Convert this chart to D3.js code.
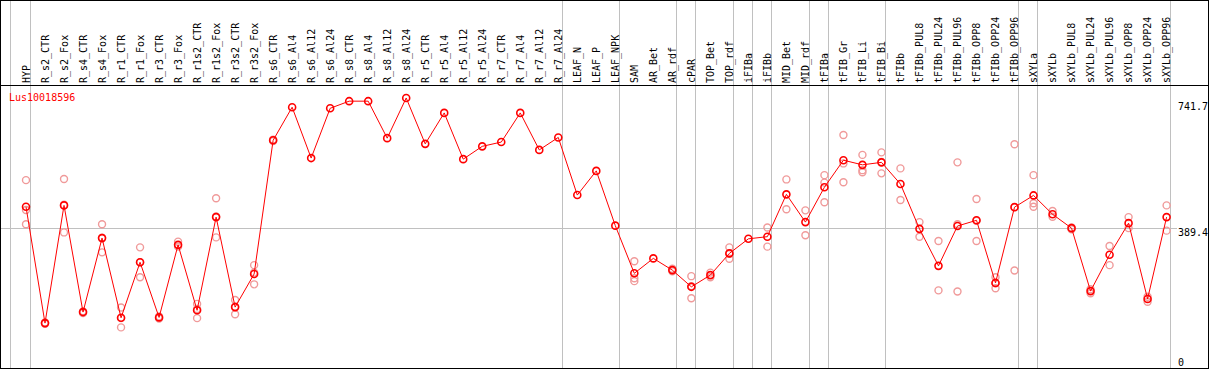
<!DOCTYPE html>
<html>
<head>
<meta charset="utf-8">
<script src="https://cdn.jsdelivr.net/npm/d3@7"></script>
<style>
body { margin: 0; background: #fff; }
text { font-family: "DejaVu Sans Mono", monospace; font-size: 10px; }
</style>
</head>
<body>
<svg id="chart" width="1209" height="370"></svg>
<script>
var width = 1209;
var height = 370;
var geneName = 'Lus10018596';

var samples = ['HYP', 'R_s2_CTR', 'R_s2_Fox', 'R_s4_CTR', 'R_s4_Fox', 'R_r1_CTR', 'R_r1_Fox',
    'R_r3_CTR', 'R_r3_Fox', 'R_r1s2_CTR', 'R_r1s2_Fox', 'R_r3s2_CTR', 'R_r3s2_Fox',
    'R_s6_CTR', 'R_s6_Al4', 'R_s6_Al12', 'R_s6_Al24', 'R_s8_CTR', 'R_s8_Al4', 'R_s8_Al12', 'R_s8_Al24',
    'R_r5_CTR', 'R_r5_Al4', 'R_r5_Al12', 'R_r5_Al24', 'R_r7_CTR', 'R_r7_Al4', 'R_r7_Al12', 'R_r7_Al24',
    'LEAF_N', 'LEAF_P', 'LEAF_NPK', 'SAM', 'AR_Bet', 'AR_rdf', 'cPAR', 'TOP_Bet', 'TOP_rdf',
    'iFIBa', 'iFIBb', 'MID_Bet', 'MID_rdf', 'tFIBa', 'tFIB_Gr', 'tFIB_Li', 'tFIB_Bi', 'tFIBb',
    'tFIBb_PUL8', 'tFIBb_PUL24', 'tFIBb_PUL96', 'tFIBb_OPP8', 'tFIBb_OPP24', 'tFIBb_OPP96',
    'sXYLa', 'sXYLb', 'sXYLb_PUL8', 'sXYLb_PUL24', 'sXYLb_PUL96', 'sXYLb_OPP8', 'sXYLb_OPP24', 'sXYLb_OPP96'];

var means = [449, 122, 453, 153, 361, 137, 293, 138, 342, 158, 420, 167, 260,
    636, 729, 586, 726, 746, 746, 642, 755,
    626, 713, 583, 619, 631, 713, 609, 644,
    482, 550, 396, 262, 304, 271, 224, 257, 318,
    359, 365, 484, 406, 504, 580, 567, 574, 513,
    387, 283, 395, 411, 235, 448,
    481, 428, 389, 212, 314, 403, 190, 420];

var replicates = [
    [524, 440, 400], [120, 124], [527, 455, 377], [150, 155], [400, 362, 321], [166, 136, 110],
    [335, 293, 251], [135, 141], [351, 337], [176, 162, 136], [473, 422, 363], [187, 168, 147],
    [285, 264, 231], [634, 638],
    [], [], [], [], [], [], [], [], [], [], [], [], [], [], [],
    [], [], [],
    [296, 248, 240], [], [268, 275], [254, 226, 192], [264, 251], [335, 317, 303],
    [], [391, 337], [526, 442], [439, 369], [538, 517, 462], [651, 571, 518], [595, 552, 546],
    [602, 575, 543], [557, 468],
    [406, 365], [353, 214], [574, 400, 211], [471, 410, 353], [251, 234, 220], [625, 448, 270],
    [538, 459, 449], [437, 421], [386, 391], [206, 217], [339, 285], [420, 389], [182, 196], [453, 382]];

// last sample of each group; a grey line follows it
var groupEnds = ['HYP', 'R_r7_Al24', 'LEAF_NPK', 'AR_rdf', 'cPAR', 'TOP_rdf', 'iFIBa', 'iFIBb',
    'MID_rdf', 'tFIBa', 'tFIB_Bi', 'tFIBb_OPP96', 'sXYLa', 'sXYLb_OPP96'];

var axisTicks = [741.7, 389.4, 0];

var x = d3.scalePoint().domain(samples).range([26, 1166.6]);
var y = d3.scaleLinear().domain([0, 741.7]).range([366.5, 102.7]);

var svg = d3.select('#chart');

// separators
var sepX = [x(samples[0]) - x.step()].concat(groupEnds.map(function(d) { return x(d); }));
svg.append('g')
    .selectAll('line')
    .data(sepX)
    .join('line')
    .attr('x1', function(d) { return Math.floor(d + 4) + 0.5; })
    .attr('x2', function(d) { return Math.floor(d + 4) + 0.5; })
    .attr('y1', 0)
    .attr('y2', 369)
    .attr('stroke', '#c0c0c0');

// middle reference line
svg.append('line')
    .attr('x1', 1)
    .attr('x2', 1177)
    .attr('y1', Math.round(y(389.4)) + 0.5)
    .attr('y2', Math.round(y(389.4)) + 0.5)
    .attr('stroke', '#c0c0c0');

// frame
svg.append('rect')
    .attr('x', 0.5).attr('y', 0.5)
    .attr('width', 1208).attr('height', 368)
    .attr('fill', 'none').attr('stroke', '#000');
svg.append('line')
    .attr('x1', 0).attr('x2', width)
    .attr('y1', 85.5).attr('y2', 85.5)
    .attr('stroke', '#000');

// column headers
svg.append('g')
    .selectAll('text')
    .data(samples)
    .join('text')
    .attr('transform', function(d) { return 'translate(' + x(d) + ',83) rotate(-90)'; })
    .attr('dy', '0.35em')
    .attr('fill', '#000')
    .text(function(d) { return d; });

// right axis labels
svg.append('g')
    .selectAll('text')
    .data(axisTicks)
    .join('text')
    .attr('x', 1178)
    .attr('y', function(d) { return d === 0 ? 366 : y(d) + 7.5; })
    .attr('fill', '#000')
    .text(function(d) { return d; });

svg.append('text')
    .attr('x', 9)
    .attr('y', 101)
    .attr('fill', '#ff0000')
    .text(geneName);

// replicate points
var reps = [];
replicates.forEach(function(r, i) {
    r.forEach(function(v) { reps.push({ name: samples[i], value: v }); });
});
svg.append('g')
    .selectAll('circle')
    .data(reps)
    .join('circle')
    .attr('cx', function(d) { return x(d.name); })
    .attr('cy', function(d) { return y(d.value); })
    .attr('r', 3.5)
    .attr('fill', 'none')
    .attr('stroke', '#f09a9a')
    .attr('stroke-width', 1.4);

var line = d3.line()
    .x(function(d, i) { return x(samples[i]); })
    .y(function(d) { return y(d); });

svg.append('path')
    .datum(means)
    .attr('d', line)
    .attr('fill', 'none')
    .attr('stroke', '#ff0000')
    .attr('stroke-width', 1);

svg.append('g')
    .selectAll('circle')
    .data(means)
    .join('circle')
    .attr('cx', function(d, i) { return x(samples[i]); })
    .attr('cy', function(d) { return y(d); })
    .attr('r', 3.5)
    .attr('fill', 'none')
    .attr('stroke', '#ff0000')
    .attr('stroke-width', 1.6);
</script>
</body>
</html>
